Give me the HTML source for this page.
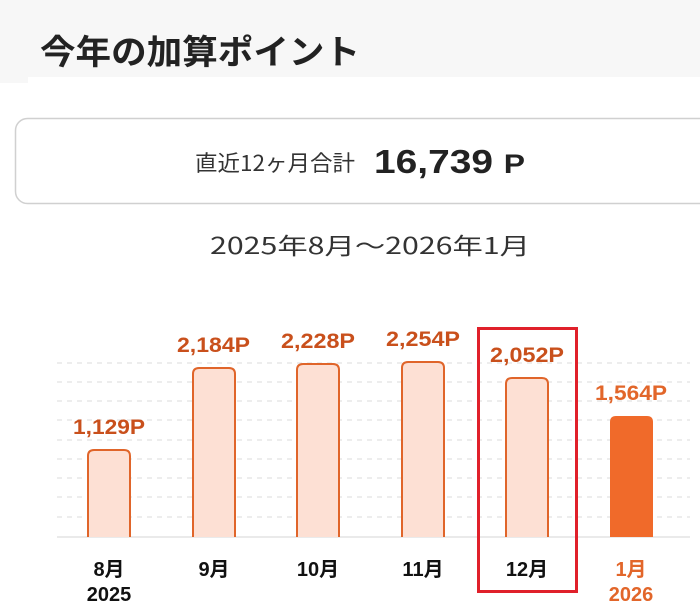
<!DOCTYPE html>
<html><head><meta charset="utf-8"><style>
body{margin:0;width:700px;height:614px;background:#fff;overflow:hidden;font-family:"Liberation Sans","Noto Sans CJK JP",sans-serif}
</style></head><body>
<svg width="700" height="614" xmlns="http://www.w3.org/2000/svg" style="position:absolute;left:0;top:0">
<rect x="0" y="0" width="700" height="77" fill="#f7f7f7"/>
<rect x="0" y="77" width="28" height="6" fill="#f7f7f7"/>
<text x="40" y="64" font-size="34" font-weight="bold" fill="#222" font-family="'Noto Sans CJK JP',sans-serif" textLength="320" lengthAdjust="spacingAndGlyphs">今年の加算ポイント</text>
<rect x="15.5" y="118.5" width="700" height="85" rx="12" fill="#fff" stroke="#d0d0d0" stroke-width="1.5"/>
<text x="195" y="171" font-size="22" fill="#333" font-family="'Noto Sans CJK JP',sans-serif" textLength="160" lengthAdjust="spacingAndGlyphs">直近12ヶ月合計</text>
<text x="374" y="173" font-size="33" font-weight="bold" fill="#222" font-family="'Liberation Sans',sans-serif" textLength="151" lengthAdjust="spacingAndGlyphs">16,739 <tspan font-size="27">P</tspan></text>
<text x="210" y="254" font-size="23" fill="#333" font-family="'Noto Sans CJK JP',sans-serif" textLength="320" lengthAdjust="spacingAndGlyphs">2025年8月～2026年1月</text>
<g stroke="#e2e2e2" stroke-width="1.3" stroke-dasharray="5,5">
<line x1="57" y1="363" x2="690" y2="363"/><line x1="57" y1="382" x2="690" y2="382"/><line x1="57" y1="401" x2="690" y2="401"/><line x1="57" y1="420" x2="690" y2="420"/><line x1="57" y1="440" x2="690" y2="440"/><line x1="57" y1="459" x2="690" y2="459"/><line x1="57" y1="478" x2="690" y2="478"/><line x1="57" y1="497" x2="690" y2="497"/><line x1="57" y1="517" x2="690" y2="517"/>
</g>
<line x1="57" y1="537" x2="690" y2="537" stroke="#e4e4e4" stroke-width="1.5"/>
<g fill="#fde0d4" stroke="#e0652a" stroke-width="2">
<path d="M88 537 V456 q0-6 6-6 h30 q6 0 6 6 V537"/>
<path d="M193 537 V374 q0-6 6-6 h30 q6 0 6 6 V537"/>
<path d="M297 537 V370 q0-6 6-6 h30 q6 0 6 6 V537"/>
<path d="M402 537 V368 q0-6 6-6 h30 q6 0 6 6 V537"/>
<path d="M506 537 V384 q0-6 6-6 h30 q6 0 6 6 V537"/>
</g>
<path d="M610 537 V422 q0-6 6-6 h31 q6 0 6 6 V537" fill="#f06a2a"/>
<g font-size="21" font-weight="bold" fill="#c9501c" font-family="'Liberation Sans',sans-serif">
<text x="73" y="434" textLength="72" lengthAdjust="spacingAndGlyphs">1,129P</text>
<text x="177" y="352" textLength="73" lengthAdjust="spacingAndGlyphs">2,184P</text>
<text x="281" y="348" textLength="74" lengthAdjust="spacingAndGlyphs">2,228P</text>
<text x="386" y="346" textLength="74" lengthAdjust="spacingAndGlyphs">2,254P</text>
<text x="490" y="362" textLength="74" lengthAdjust="spacingAndGlyphs">2,052P</text>
<text x="595" y="400" fill="#e2662a" textLength="72" lengthAdjust="spacingAndGlyphs">1,564P</text>
</g>
<g font-size="20" font-weight="bold" fill="#111" text-anchor="middle" font-family="'Liberation Sans','Noto Sans CJK JP',sans-serif">
<text x="109" y="576">8月</text><text x="109" y="601">2025</text>
<text x="214" y="576">9月</text>
<text x="318" y="576">10月</text>
<text x="423" y="576">11月</text>
<text x="527" y="576">12月</text>
<text x="631" y="576" fill="#e2662a">1月</text><text x="631" y="601" fill="#e2662a">2026</text>
</g>
<rect x="478.5" y="328.5" width="98" height="263" fill="none" stroke="#e0202a" stroke-width="3"/>
</svg>
</body></html>
